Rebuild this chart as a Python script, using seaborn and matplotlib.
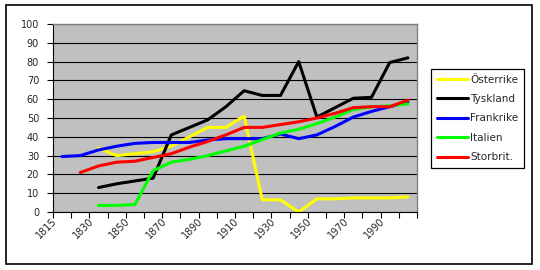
import numpy as np
import pandas as pd
import matplotlib
matplotlib.use("Agg")
import matplotlib.pyplot as plt
import matplotlib.transforms as mtrans
from matplotlib.patches import Rectangle
from matplotlib.lines import Line2D
import seaborn as sns

# ---- data ----
years = ["1815", "1820", "1830", "1840", "1850", "1860", "1870", "1880", "1890", "1900",
         "1910", "1920", "1930", "1940", "1950", "1960", "1970", "1980", "1990", "2000"]
tick_years = ["1815", "1830", "1850", "1870", "1890", "1910", "1930", "1950", "1970", "1990"]

osterrike = [np.nan, np.nan, 34, 30, 31, 32, 35, 40, 45, 45, 51, 6.5, 6.5, 0, 7, 7, 7.5, 7.5, 7.5, 8]
tyskland = [np.nan, np.nan, 13, 15, 16.5, 18, 41, 45, 49, 56, 64.5, 62, 62, 80, 50.5, 55.5, 60.5, 61, 79.5, 82]
frankrike = [29.5, 30, 33, 35, 36.5, 37, 37, 37, 38.3, 39, 39, 39, 41.5, 39, 41, 45.5, 50.5, 53.5, 56, 58.5]
italien = [np.nan, np.nan, 3.5, 3.5, 4, 22, 26.5, 28, 30, 32.5, 35, 38.5, 42, 44, 47, 50.5, 54.5, 56, 56.5, 57.5]
storbrit = [np.nan, 21, 24.5, 26.5, 27, 29, 31, 34.5, 37.5, 41, 45, 45, 46.5, 48, 50, 52.5, 55.5, 56, 56, 59.5]

series_names = ["Österrike", "Tyskland", "Frankrike", "Italien", "Storbrit."]
series_values = [osterrike, tyskland, frankrike, italien, storbrit]
colors = ["#FFFF00", "#000000", "#0000FF", "#00FF00", "#FF0000"]

rows = []
for name, vals in zip(series_names, series_values):
    for i, (yr, v) in enumerate(zip(years, vals)):
        rows.append({"idx": i, "year": yr, "land": name, "value": v})
df = pd.DataFrame(rows).dropna()

# ---- style ----
sns.set_theme(style="white")
plt.rcParams['font.family'] = ['DejaVu Sans']

W, H = 540, 270
fig = plt.figure(figsize=(W / 100, H / 100), dpi=100)
fig.patch.set_facecolor("white")
ax = fig.add_axes([53 / W, 1 - 212 / H, 364 / W, 188 / H])
ax.set_facecolor("#C0C0C0")

sns.lineplot(data=df, x="idx", y="value", hue="land", hue_order=series_names,
             palette=colors, linewidth=2.2, estimator=None, ax=ax, legend=False)

ax.set_xlim(-0.5, len(years) - 0.5)
ax.set_ylim(0, 100)
ax.set_xlabel("")
ax.set_ylabel("")

# y axis
ax.set_yticks(np.arange(0, 101, 10))
ax.set_yticklabels([str(v) for v in range(0, 101, 10)])
ax.yaxis.grid(True, color="black", linewidth=0.8)
ax.xaxis.grid(False)
ax.set_axisbelow(True)
ax.tick_params(axis="y", which="major", direction="out", length=4, width=0.8,
               color="black", labelsize=7, pad=6, left=True)

# x axis: labels on every other category, tick marks between categories
label_pos = [years.index(y) for y in tick_years]
ax.set_xticks(label_pos)
ax.set_xticklabels(tick_years)
ax.set_xticks(np.arange(-0.5, len(years), 1), minor=True)
ax.tick_params(axis="x", which="major", length=0, labelsize=7, pad=3, bottom=True)
ax.tick_params(axis="x", which="minor", direction="out", length=4, width=0.8,
               color="black", bottom=True)
offset = mtrans.ScaledTranslation(-10 / 100, 0, fig.dpi_scale_trans)
for lab in ax.get_xticklabels():
    lab.set_rotation(45)
    lab.set_rotation_mode("anchor")
    lab.set_ha("right")
    lab.set_va("top")
    lab.set_transform(lab.get_transform() + offset)

for s in ["left", "bottom"]:
    ax.spines[s].set_color("black")
    ax.spines[s].set_linewidth(0.8)
for s in ["top", "right"]:
    ax.spines[s].set_color("#808080")
    ax.spines[s].set_linewidth(1.0)

# legend
handles = [Line2D([0], [0], color=c, lw=2.2) for c in colors]
leg = ax.legend(handles, series_names, loc="upper left",
                bbox_to_anchor=(431 / W, 1 - 69 / H), bbox_transform=fig.transFigure,
                frameon=True, fancybox=False, edgecolor="black", framealpha=1,
                facecolor="white", fontsize=7.5, handlelength=3.0, handletextpad=0.2,
                labelspacing=0.9, borderpad=0.55, borderaxespad=0)
leg.get_frame().set_linewidth(0.9)

# outer chart border
fig.patches.append(Rectangle((6 / W, 1 - 264 / H), 526 / W, 259 / H,
                             transform=fig.transFigure, fill=False,
                             edgecolor="black", linewidth=1.2))

fig.savefig("out.png", dpi=100)
